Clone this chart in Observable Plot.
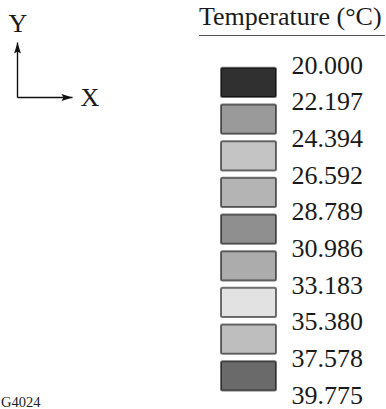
<!DOCTYPE html>
<html>
<head>
<meta charset="utf-8">
<script src="https://cdn.jsdelivr.net/npm/d3@7"></script>
<script src="https://cdn.jsdelivr.net/npm/@observablehq/plot@0.6"></script>
<style>
  html, body { margin: 0; padding: 0; background: #fff; }
  #wrap { position: relative; width: 386px; height: 409px; overflow: hidden; font-family: "Liberation Serif", "DejaVu Serif", serif; color: #1a1a1a; }
  #wrap svg { position: absolute; left: 0; top: 0; }
  #title { position: absolute; left: 199px; top: 4px; width: 186px; font-size: 26px; line-height: 26px; padding-bottom: 5px; border-bottom: 1.2px solid #555; white-space: nowrap; }
</style>
</head>
<body>
<div id="wrap"><div id="title">Temperature (°C)</div></div>
<script>
// ---- data ----
const tickLabels = ["20.000", "22.197", "24.394", "26.592", "28.789", "30.986", "33.183", "35.380", "37.578", "39.775"];
const tickValues = [20.000, 22.197, 24.394, 26.592, 28.789, 30.986, 33.183, 35.380, 37.578, 39.775];
const bandGreys = ["#303030", "#9a9a9a", "#c4c4c4", "#b4b4b4", "#8f8f8f", "#acacac", "#e2e2e2", "#bebebe", "#6a6a6a"];
const axisNames = ["X", "Y"];
const axisDirX = [1, 0];
const axisDirY = [0, 1];
const figureCode = "G4024";

// ---- tables built from the arrays ----
const ticks = tickLabels.map((label, i) => ({label, value: tickValues[i]}));
const bands = d3.pairs(ticks).map(([a, b]) => ({lo: a.value, hi: b.value, band: `${a.label}–${b.label}`}));
const axes = axisNames.map((name, i) => ({name, ox: 0, oy: 0, dx: axisDirX[i], dy: axisDirY[i]}));

const wrap = document.getElementById("wrap");

// legend (band swatches + boundary labels)
const legend = Plot.plot({
  width: 386,
  height: 409,
  margin: 0,
  style: {background: "transparent", fontFamily: "Liberation Serif", color: "#1a1a1a"},
  y: {domain: [tickValues[0], tickValues[tickValues.length - 1]], range: [65, 395], axis: null},
  color: {type: "ordinal", domain: bands.map(d => d.band), range: bandGreys},
  marks: [
    Plot.rect(bands, {
      y1: "lo", y2: "hi", fill: "band",
      stroke: "black", strokeOpacity: 0.55, strokeWidth: 2,
      insetLeft: 221, insetRight: 110, insetTop: 2.8, insetBottom: 4.6, rx: 1.5
    }),
    Plot.text(ticks, {
      y: "value", text: "label", frameAnchor: "left", dx: 291,
      textAnchor: "start", lineAnchor: "middle", fontSize: 26, fill: "#1a1a1a"
    }),
    Plot.text([figureCode], {
      frameAnchor: "bottom-left", dx: 0.5, dy: -7, textAnchor: "start",
      lineAnchor: "middle", fontSize: 14.5, fill: "#222"
    })
  ]
});
wrap.appendChild(legend);

// axis direction indicator
const arrowHead = {
  draw(context) {
    context.moveTo(0, 0);
    context.lineTo(3.4, 11);
    context.lineTo(0, 9);
    context.lineTo(-3.4, 11);
    context.closePath();
  }
};
const indicator = Plot.plot({
  width: 120,
  height: 120,
  margin: 0,
  style: {background: "transparent", fontFamily: "Liberation Serif", color: "#1a1a1a"},
  x: {domain: [0, 1], range: [17, 72], axis: null},
  y: {domain: [0, 1], range: [97, 42], axis: null},
  marks: [
    Plot.link(axes, {x1: "ox", y1: "oy", x2: "dx", y2: "dy", stroke: "#111", strokeWidth: 1.4}),
    Plot.dot(axes, {x: "dx", y: "dy", symbol: arrowHead, r: 4, fill: "#111", stroke: "none",
      rotate: d => Math.atan2(d.dx, d.dy) * 180 / Math.PI}),
    Plot.text(axes.filter(d => d.dy > 0), {x: "dx", y: "dy", text: "name", dy: -19, dx: 0.5,
      lineAnchor: "middle", textAnchor: "middle", fontSize: 26, fill: "#1a1a1a"}),
    Plot.text(axes.filter(d => d.dx > 0), {x: "dx", y: "dy", text: "name", dx: 8, dy: 0.5,
      lineAnchor: "middle", textAnchor: "start", fontSize: 26, fill: "#1a1a1a"})
  ]
});
wrap.appendChild(indicator);
</script>
</body>
</html>
